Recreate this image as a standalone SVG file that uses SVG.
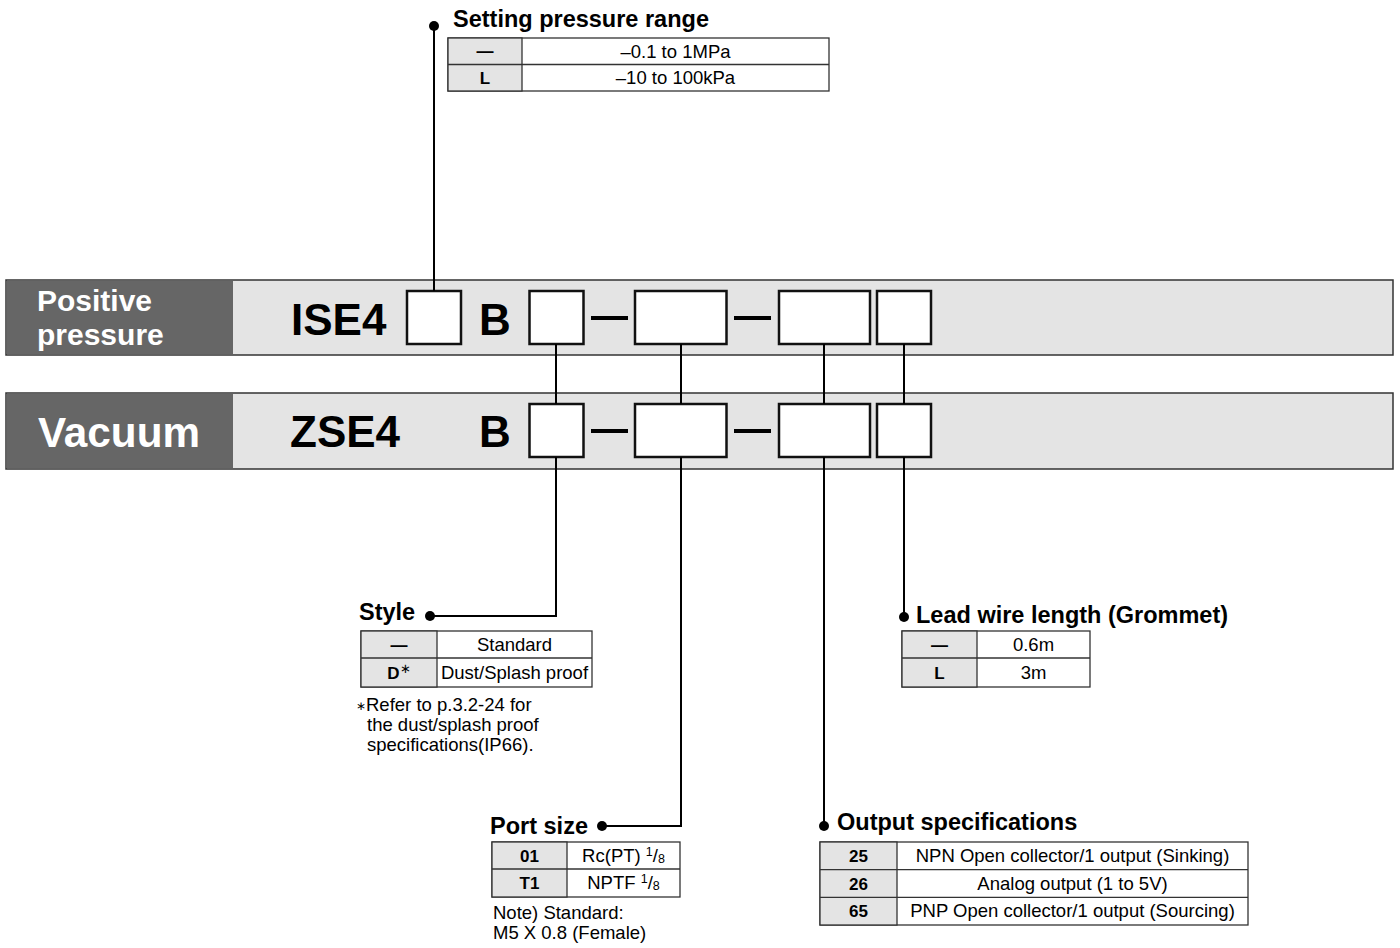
<svg xmlns="http://www.w3.org/2000/svg" width="1400" height="948" viewBox="0 0 1400 948">
<style>
.bar{fill:#e4e4e4;stroke:#333;stroke-width:1.5}
.dark{fill:#666;stroke:none}
.box{fill:#fff;stroke:#111;stroke-width:2.5}
.dash{stroke:#000;stroke-width:4}
.code{font-family:"Liberation Sans",Arial,sans-serif;font-weight:bold;font-size:44px;fill:#000}
.cat{font-family:"Liberation Sans",Arial,sans-serif;font-weight:bold;fill:#fff}
.title{font-family:"Liberation Sans",Arial,sans-serif;font-weight:bold;font-size:23.5px;fill:#000}
.tbl{fill:#fff;stroke:#333;stroke-width:1.3}
.key{fill:#e4e4e4;stroke:#333;stroke-width:1.3}
.rule{stroke:#333;stroke-width:1.3}
.k{font-family:"Liberation Sans",Arial,sans-serif;font-weight:bold;font-size:17px;fill:#000;text-anchor:middle}
.v{font-family:"Liberation Sans",Arial,sans-serif;font-size:18.5px;fill:#000;text-anchor:middle}
.note{font-family:"Liberation Sans",Arial,sans-serif;font-size:18.5px;fill:#000}
.conn{fill:none;stroke:#000;stroke-width:2}
.dot{fill:#000}
</style>

<g id="bar-positive">
<rect class="bar" x="6" y="280" width="1387" height="75"/>
<rect class="dark" x="6.75" y="280.75" width="226.25" height="73.5"/>
<text class="cat" x="37" y="311" font-size="30">Positive</text>
<text class="cat" x="37" y="345" font-size="30">pressure</text>
<text class="code" x="291" y="335">ISE4</text>
<rect class="box" x="407" y="291" width="54" height="53"/>
<text class="code" x="479" y="335">B</text>
<rect class="box" x="529.5" y="291" width="54" height="53"/>
<line class="dash" x1="591" y1="318" x2="628" y2="318"/>
<rect class="box" x="635" y="291" width="91.5" height="53"/>
<line class="dash" x1="734" y1="318" x2="771" y2="318"/>
<rect class="box" x="779" y="291" width="91" height="53"/>
<rect class="box" x="877" y="291" width="54" height="53"/>
</g>

<g id="bar-vacuum">
<rect class="bar" x="6" y="393" width="1387" height="76"/>
<rect class="dark" x="6.75" y="393.75" width="226.25" height="74.5"/>
<text class="cat" x="38" y="447" font-size="43" textLength="162" lengthAdjust="spacingAndGlyphs">Vacuum</text>
<text class="code" x="290" y="447">ZSE4</text>
<text class="code" x="479" y="447">B</text>
<rect class="box" x="529.5" y="404" width="54" height="53"/>
<line class="dash" x1="591" y1="431" x2="628" y2="431"/>
<rect class="box" x="635" y="404" width="91.5" height="53"/>
<line class="dash" x1="734" y1="431" x2="771" y2="431"/>
<rect class="box" x="779" y="404" width="91" height="53"/>
<rect class="box" x="877" y="404" width="54" height="53"/>
</g>

<g id="connectors">
<path class="conn" d="M434 26 V291"/>
<circle class="dot" cx="434" cy="26" r="5"/>
<path class="conn" d="M556 344 V404"/>
<path class="conn" d="M681 344 V404"/>
<path class="conn" d="M824 344 V404"/>
<path class="conn" d="M904 344 V404"/>
<path class="conn" d="M556 457 V616 H430"/>
<circle class="dot" cx="430" cy="616" r="5"/>
<path class="conn" d="M681 457 V826 H602"/>
<circle class="dot" cx="602" cy="826" r="5"/>
<path class="conn" d="M824 457 V826"/>
<circle class="dot" cx="824" cy="826" r="5"/>
<path class="conn" d="M904 457 V617"/>
<circle class="dot" cx="904" cy="617" r="5"/>
</g>

<g id="setting-pressure-range">
<text class="title" x="453" y="27">Setting pressure range</text>
<rect class="tbl" x="448" y="38" width="381" height="53"/>
<rect class="key" x="448" y="38" width="74" height="53"/>
<line class="rule" x1="448" y1="64.5" x2="829" y2="64.5"/>
<text class="k" x="485" y="57">—</text>
<text class="k" x="485" y="83.5">L</text>
<text class="v" x="675.5" y="57.5">–0.1 to 1MPa</text>
<text class="v" x="675.5" y="84">–10 to 100kPa</text>
</g>

<g id="style">
<text class="title" x="359" y="620">Style</text>
<rect class="tbl" x="361" y="631" width="231" height="56"/>
<rect class="key" x="361" y="631" width="76" height="56"/>
<line class="rule" x1="361" y1="658" x2="592" y2="658"/>
<text class="k" x="399" y="651">—</text>
<text class="k" x="399" y="679">D<tspan font-weight="normal" font-size="13" dy="-6">∗</tspan></text>
<text class="v" x="514.5" y="651">Standard</text>
<text class="v" x="514.5" y="679">Dust/Splash proof</text>
<text class="note" x="356" y="711"><tspan font-size="12" dy="-1">∗</tspan><tspan dy="1">Refer to p.3.2-24 for</tspan></text>
<text class="note" x="367" y="731">the dust/splash proof</text>
<text class="note" x="367" y="751">specifications(IP66).</text>
</g>

<g id="lead-wire-length">
<text class="title" x="916" y="623">Lead wire length (Grommet)</text>
<rect class="tbl" x="902" y="631" width="188" height="56"/>
<rect class="key" x="902" y="631" width="75" height="56"/>
<line class="rule" x1="902" y1="658" x2="1090" y2="658"/>
<text class="k" x="939.5" y="651">—</text>
<text class="k" x="939.5" y="679">L</text>
<text class="v" x="1033.5" y="651">0.6m</text>
<text class="v" x="1033.5" y="679">3m</text>
</g>

<g id="port-size">
<text class="title" x="490" y="834">Port size</text>
<rect class="tbl" x="492" y="842" width="188" height="55"/>
<rect class="key" x="492" y="842" width="75" height="55"/>
<line class="rule" x1="492" y1="869" x2="680" y2="869"/>
<text class="k" x="529.5" y="862">01</text>
<text class="k" x="529.5" y="889">T1</text>
<text class="v" x="623.5" y="862">Rc(PT) <tspan font-size="12.5" dy="-6">1</tspan><tspan dy="6">/</tspan><tspan font-size="12.5" dy="1">8</tspan></text>
<text class="v" x="623.5" y="889">NPTF <tspan font-size="12.5" dy="-6">1</tspan><tspan dy="6">/</tspan><tspan font-size="12.5" dy="1">8</tspan></text>
<text class="note" x="493" y="919">Note) Standard:</text>
<text class="note" x="493" y="939">M5 X 0.8 (Female)</text>
</g>

<g id="output-specifications">
<text class="title" x="837" y="830">Output specifications</text>
<rect class="tbl" x="820" y="842" width="428" height="83"/>
<rect class="key" x="820" y="842" width="77" height="83"/>
<line class="rule" x1="820" y1="869.7" x2="1248" y2="869.7"/>
<line class="rule" x1="820" y1="897.3" x2="1248" y2="897.3"/>
<text class="k" x="858.5" y="862">25</text>
<text class="k" x="858.5" y="889.5">26</text>
<text class="k" x="858.5" y="917">65</text>
<text class="v" x="1072.5" y="862">NPN Open collector/1 output (Sinking)</text>
<text class="v" x="1072.5" y="889.5">Analog output (1 to 5V)</text>
<text class="v" x="1072.5" y="917">PNP Open collector/1 output (Sourcing)</text>
</g>
</svg>
